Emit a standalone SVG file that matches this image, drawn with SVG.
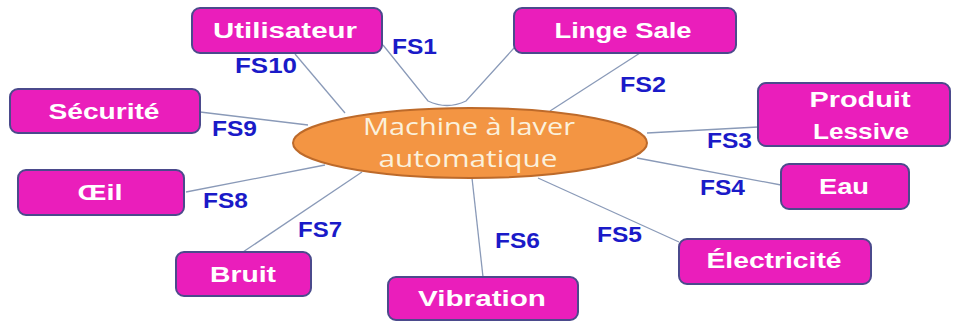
<svg xmlns="http://www.w3.org/2000/svg" width="953" height="323" viewBox="0 0 953 323">
<style>
.box{fill:#ea1ebb;stroke:#4b4a8c;stroke-width:2}
.bt{font-family:"Liberation Sans",Arial,sans-serif;font-weight:bold;font-size:22px;fill:#ffffff;text-anchor:middle}
.fs{font-family:"Liberation Sans",Arial,sans-serif;font-weight:bold;font-size:22px;fill:#1a1ac8}
.ln{fill:none;stroke:#8a9ab8;stroke-width:1.3}
.et{font-family:"Open Sans","Liberation Sans",sans-serif;font-size:24px;fill:#fbf1dc;text-anchor:middle}
</style>
<rect width="953" height="323" fill="#ffffff"/>
<g id="connectors">
<line class="ln" x1="295" y1="54" x2="345" y2="113"/>
<path class="ln" d="M383,45 L428,101 Q447,110 466,101 L514,48"/>
<line class="ln" x1="640" y1="53" x2="550" y2="111"/>
<line class="ln" x1="758" y1="127" x2="647" y2="133"/>
<line class="ln" x1="781" y1="185" x2="637" y2="158"/>
<line class="ln" x1="679" y1="242" x2="538" y2="178"/>
<line class="ln" x1="483" y1="277" x2="472" y2="178"/>
<line class="ln" x1="243" y1="252" x2="362" y2="172"/>
<line class="ln" x1="186" y1="192" x2="325" y2="165"/>
<line class="ln" x1="200" y1="112" x2="308" y2="125"/>
</g>
<g id="labels">
<text class="fs" x="392" y="54" textLength="45" lengthAdjust="spacingAndGlyphs">FS1</text>
<text class="fs" x="235" y="73" textLength="62" lengthAdjust="spacingAndGlyphs">FS10</text>
<text class="fs" x="620" y="92" textLength="46" lengthAdjust="spacingAndGlyphs">FS2</text>
<text class="fs" x="707" y="148" textLength="45" lengthAdjust="spacingAndGlyphs">FS3</text>
<text class="fs" x="212" y="136" textLength="45" lengthAdjust="spacingAndGlyphs">FS9</text>
<text class="fs" x="203" y="208" textLength="45" lengthAdjust="spacingAndGlyphs">FS8</text>
<text class="fs" x="298" y="237" textLength="44" lengthAdjust="spacingAndGlyphs">FS7</text>
<text class="fs" x="495" y="248" textLength="45" lengthAdjust="spacingAndGlyphs">FS6</text>
<text class="fs" x="700" y="195" textLength="45" lengthAdjust="spacingAndGlyphs">FS4</text>
<text class="fs" x="597" y="242" textLength="45" lengthAdjust="spacingAndGlyphs">FS5</text>
</g>
<g id="machine">
<ellipse cx="470" cy="143" rx="177" ry="35" fill="#f39543" stroke="#bd6a2a" stroke-width="2"/>
<text class="et" x="469" y="135" textLength="212" lengthAdjust="spacingAndGlyphs">Machine à laver</text>
<text class="et" x="468" y="167" textLength="179" lengthAdjust="spacingAndGlyphs">automatique</text>
</g>
<g id="utilisateur">
<rect class="box" x="192" y="8" width="190" height="45" rx="8"/>
<text class="bt" x="285" y="38" textLength="144" lengthAdjust="spacingAndGlyphs">Utilisateur</text>
</g>
<g id="linge-sale">
<rect class="box" x="514" y="8" width="222" height="45" rx="8"/>
<text class="bt" x="623" y="38" textLength="137" lengthAdjust="spacingAndGlyphs">Linge Sale</text>
</g>
<g id="produit-lessive">
<rect class="box" x="758" y="83" width="192" height="63" rx="8"/>
<text class="bt" x="860" y="107" textLength="101" lengthAdjust="spacingAndGlyphs">Produit</text>
<text class="bt" x="861" y="139" textLength="96" lengthAdjust="spacingAndGlyphs">Lessive</text>
</g>
<g id="eau">
<rect class="box" x="781" y="164" width="128" height="45" rx="8"/>
<text class="bt" x="844" y="194" textLength="50" lengthAdjust="spacingAndGlyphs">Eau</text>
</g>
<g id="electricite">
<rect class="box" x="679" y="239" width="192" height="45" rx="8"/>
<text class="bt" x="774" y="268" textLength="135" lengthAdjust="spacingAndGlyphs">Électricité</text>
</g>
<g id="vibration">
<rect class="box" x="388" y="277" width="190" height="43" rx="8"/>
<text class="bt" x="482" y="306" textLength="128" lengthAdjust="spacingAndGlyphs">Vibration</text>
</g>
<g id="bruit">
<rect class="box" x="176" y="252" width="135" height="44" rx="8"/>
<text class="bt" x="243" y="282" textLength="66" lengthAdjust="spacingAndGlyphs">Bruit</text>
</g>
<g id="oeil">
<rect class="box" x="18" y="170" width="166" height="45" rx="8"/>
<text class="bt" x="100" y="200" textLength="45" lengthAdjust="spacingAndGlyphs">Œil</text>
</g>
<g id="securite">
<rect class="box" x="10" y="89" width="190" height="44" rx="8"/>
<text class="bt" x="104" y="119" textLength="111" lengthAdjust="spacingAndGlyphs">Sécurité</text>
</g>
</svg>
